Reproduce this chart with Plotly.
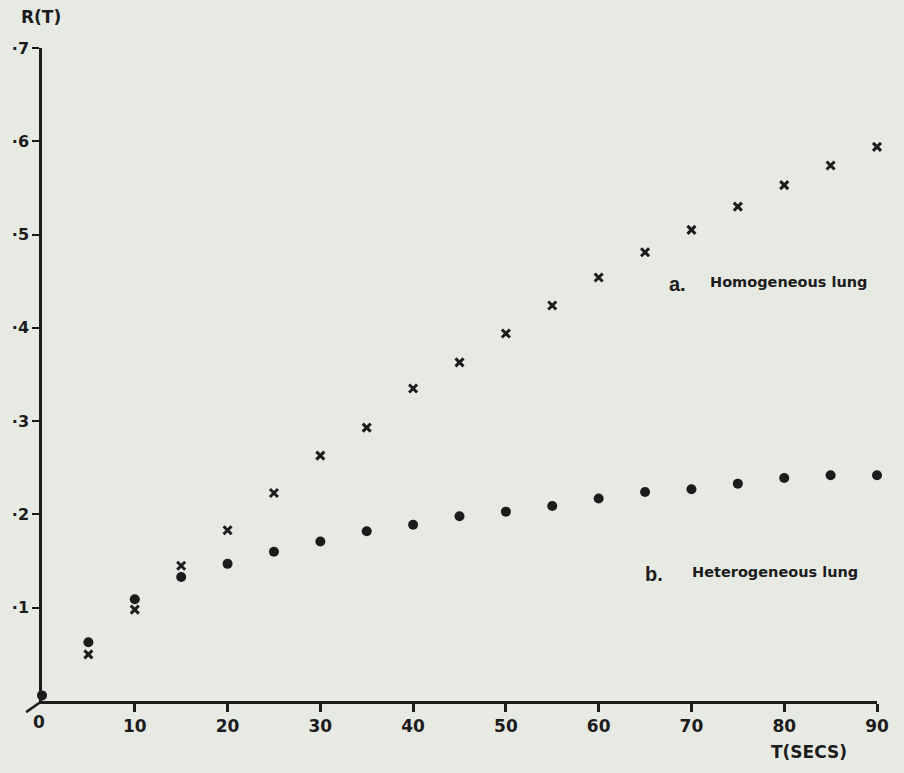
import plotly.graph_objects as go

# Time after start (s)
t_secs = [0, 5, 10, 15, 20, 25, 30, 35, 40, 45, 50, 55, 60, 65, 70, 75, 80, 85, 90]

# R(T) for the homogeneous lung (crosses), from t = 5 s
t_homog = t_secs[1:]
r_homog = [0.050, 0.098, 0.145, 0.183, 0.223, 0.263, 0.293, 0.335, 0.363,
           0.394, 0.424, 0.454, 0.481, 0.505, 0.530, 0.553, 0.574, 0.594]

# R(T) for the heterogeneous lung (dots)
r_heter = [0.006, 0.063, 0.109, 0.133, 0.147, 0.160, 0.171, 0.182, 0.189, 0.198,
           0.203, 0.209, 0.217, 0.224, 0.227, 0.233, 0.239, 0.242, 0.242]

# Axis ticks (the origin label is written separately, without a tick mark)
x_ticks = [10, 20, 30, 40, 50, 60, 70, 80, 90]
x_tick_text = ["10", "20", "30", "40", "50", "60", "70", "80", "90"]
y_ticks = [0.1, 0.2, 0.3, 0.4, 0.5, 0.6, 0.7]
y_tick_text = ["·1", "·2", "·3", "·4", "·5", "·6", "·7"]

INK = "#1c1c1c"
PAPER = "#e7e9e3"
FONT = "Liberation Sans"
LABEL_FONT = "DejaVu Sans"

fig = go.Figure()

fig.add_trace(go.Scatter(
    x=t_homog, y=r_homog, mode="markers", name="a. Homogeneous lung",
    marker=dict(symbol="x-thin", size=8, line=dict(width=3, color=INK), color=INK),
    cliponaxis=False,
))
fig.add_trace(go.Scatter(
    x=t_secs, y=r_heter, mode="markers", name="b. Heterogeneous lung",
    marker=dict(symbol="circle", size=10, color=INK, line=dict(width=0)),
    cliponaxis=False,
))

# Series labels written beside the curves
fig.add_annotation(x=69.6, y=0.447, xref="x", yref="y", showarrow=False,
                   xanchor="right", yanchor="middle",
                   text="<b>a.</b>", font=dict(family=FONT, size=20, color=INK))
fig.add_annotation(x=71.8, y=0.449, xref="x", yref="y", showarrow=False,
                   xanchor="left", yanchor="middle",
                   text="<b>Homogeneous lung</b>", font=dict(family=LABEL_FONT, size=14.5, color=INK))
fig.add_annotation(x=67.2, y=0.136, xref="x", yref="y", showarrow=False,
                   xanchor="right", yanchor="middle",
                   text="<b>b.</b>", font=dict(family=FONT, size=20, color=INK))
fig.add_annotation(x=69.8, y=0.138, xref="x", yref="y", showarrow=False,
                   xanchor="left", yanchor="middle",
                   text="<b>Heterogeneous lung</b>", font=dict(family=LABEL_FONT, size=14.5, color=INK))

# Axis titles
fig.add_annotation(x=-0.027, y=1.048, xref="paper", yref="paper", showarrow=False,
                   text="<b>R(T)</b>", font=dict(family=LABEL_FONT, size=17, color=INK),
                   xanchor="left", yanchor="middle")
fig.add_annotation(x=0.918, y=-0.078, xref="paper", yref="paper", showarrow=False,
                   text="<b>T(SECS)</b>", font=dict(family=LABEL_FONT, size=17, color=INK),
                   xanchor="center", yanchor="middle")
# Origin label
fig.add_annotation(x=-0.003, y=-0.032, xref="paper", yref="paper", showarrow=False,
                   text="<b>0</b>", font=dict(family=LABEL_FONT, size=17, color=INK),
                   xanchor="center", yanchor="middle")

# Short diagonal stroke below the origin
fig.add_shape(type="line", xref="paper", yref="paper",
              x0=0, y0=0, x1=-0.019, y1=-0.017,
              line=dict(color=INK, width=2.5))

fig.update_layout(
    width=904, height=773,
    margin=dict(l=40, r=27, t=48, b=72),
    paper_bgcolor=PAPER, plot_bgcolor=PAPER,
    showlegend=False,
    font=dict(family=FONT, color=INK),
)

fig.update_xaxes(
    range=[0, 90], tickvals=x_ticks, ticktext=["<b>%s</b>" % s for s in x_tick_text],
    showgrid=False, zeroline=False,
    showline=True, linecolor=INK, linewidth=2.5,
    ticks="outside", ticklen=8, tickwidth=2.5, tickcolor=INK,
    tickfont=dict(family=LABEL_FONT, size=17, color=INK),
)
fig.update_yaxes(
    range=[0, 0.7], tickvals=y_ticks, ticktext=["<b>%s</b>" % s for s in y_tick_text],
    showgrid=False, zeroline=False,
    showline=True, linecolor=INK, linewidth=2.5,
    ticks="outside", ticklen=7, tickwidth=2, tickcolor=INK,
    tickfont=dict(family=LABEL_FONT, size=16, color=INK),
)

fig.write_html("out.html")
